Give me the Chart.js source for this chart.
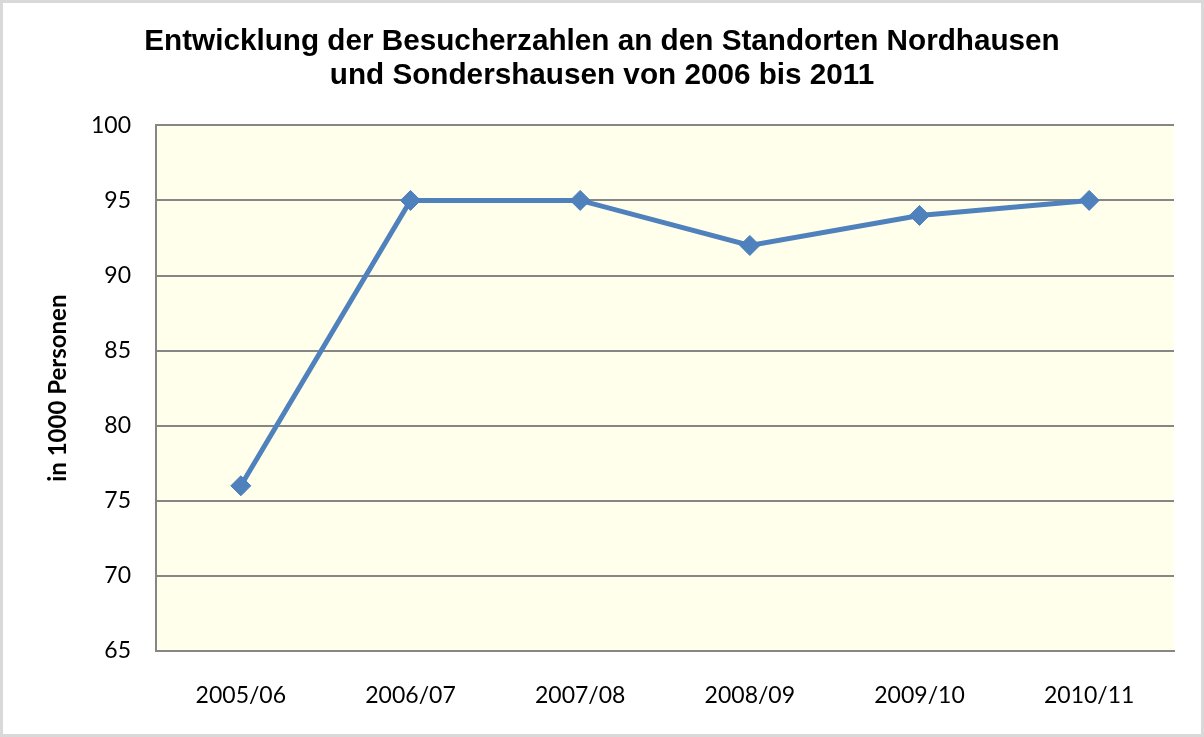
<!doctype html>
<html lang="de">
<head>
  <meta charset="utf-8">
  <title>Besucherzahlen Nordhausen / Sondershausen</title>
  <script src="https://cdn.jsdelivr.net/npm/chart.js@4.4.1/dist/chart.umd.min.js"></script>
  <style>
    html, body { margin: 0; padding: 0; background: #fff; }
    .frame {
      width: 1204px; height: 737px;
      box-sizing: border-box;
      border: 3px solid #d9d9d9;
      background: #fff;
    }
    .frame canvas { display: block; }
  </style>
</head>
<body>
  <div class="frame">
    <canvas id="myChart" width="1198" height="731"></canvas>
  </div>

  <script>
    // Daten
    const seasons = ['2005/06', '2006/07', '2007/08', '2008/09', '2009/10', '2010/11'];
    const visitors = [76, 95, 95, 92, 94, 95];
    const titleLines = ['Entwicklung der Besucherzahlen an den Standorten Nordhausen', 'und Sondershausen von 2006 bis 2011'];
    const yAxisTitle = 'in 1000 Personen';
    const yMin = 65, yMax = 100, yStep = 5;

    // Hintergrund der Zeichenfläche
    const plotBackground = {
      id: 'plotBackground',
      beforeDraw(chart) {
        const { ctx, chartArea } = chart;
        ctx.save();
        ctx.fillStyle = '#ffffeb';
        ctx.fillRect(chartArea.left, chartArea.top, chartArea.right - chartArea.left, chartArea.bottom - chartArea.top);
        ctx.restore();
      }
    };

    const ctx = document.getElementById('myChart').getContext('2d');
    const myChart = new Chart(ctx, {
      type: 'line',
      data: {
        labels: seasons,
        datasets: [{
          label: 'Besucher',
          data: visitors,
          borderColor: '#4f81bd',
          backgroundColor: '#4f81bd',
          borderWidth: 5,
          pointStyle: 'rectRot',
          pointRadius: 10,
          pointBorderWidth: 1,
          pointBackgroundColor: '#4f81bd',
          pointBorderColor: '#4a7ebb',
          tension: 0
        }]
      },
      options: {
        responsive: false,
        animation: false,
        layout: { padding: 0 },
        plugins: {
          legend: { display: false },
          tooltip: { enabled: false },
          title: {
            display: true,
            text: titleLines,
            color: '#000',
            font: { family: 'Liberation Sans', size: 29.7, weight: 'bold', lineHeight: 1.15 },
            padding: { top: 22, bottom: 32 }
          }
        },
        scales: {
          x: {
            offset: true,
            grid: { display: false, drawTicks: false },
            border: { display: true, color: '#868686', width: 2 },
            ticks: {
              color: '#000',
              padding: 31,
              maxRotation: 0,
              font: { family: 'Lato', size: 23 }
            },
            afterFit(scale) { scale.height = 83; }
          },
          y: {
            min: yMin,
            max: yMax,
            grid: { color: '#868686', lineWidth: 2, drawTicks: false },
            border: { display: true, color: '#868686', width: 2 },
            ticks: {
              stepSize: yStep,
              color: '#000',
              padding: 25,
              font: { family: 'Lato', size: 23 }
            },
            title: {
              display: true,
              text: yAxisTitle,
              color: '#000',
              font: { family: 'Lato', size: 24, weight: 'bold' },
              padding: { top: 41, bottom: 0 }
            },
            afterFit(scale) { scale.width = 153; }
          },
          // leere Achse rechts, nur als Abstand
          yRight: {
            position: 'right',
            min: yMin,
            max: yMax,
            grid: { display: false, drawTicks: false },
            border: { display: false },
            ticks: { display: false },
            afterFit(scale) { scale.width = 27; }
          }
        }
      },
      plugins: [plotBackground]
    });
  </script>
</body>
</html>
